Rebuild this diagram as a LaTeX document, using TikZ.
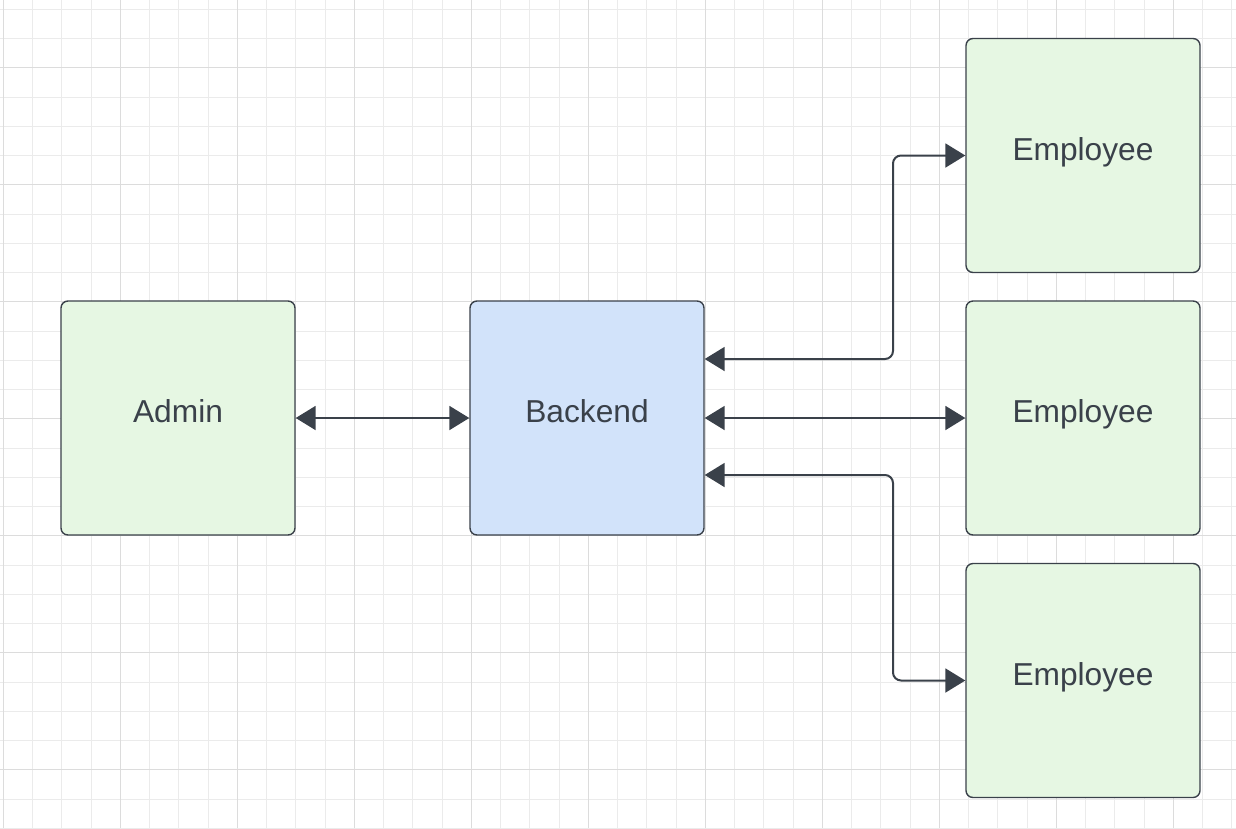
\documentclass[tikz,border=0pt]{standalone}
\usepackage{fontspec}
\setmainfont{Liberation Sans}
\usetikzlibrary{arrows.meta}
\pgfdeclarelayer{bg}
\pgfsetlayers{bg,main}
\definecolor{gridminor}{HTML}{EBEBEB}
\definecolor{gridmajor}{HTML}{DCDCDC}
\definecolor{ink}{HTML}{3A414A}
\definecolor{greenfill}{HTML}{E6F7E3}
\definecolor{bluefill}{HTML}{D2E3FA}
\tikzset{every picture/.append style={x=1pt, y=-1pt}}
\tikzset{
    box/.style={draw=ink, line width=1.4pt, rounded corners=7pt,
    	minimum size=234pt, inner sep=0pt, text=ink,
    	font=\fontsize{31.7}{38}\selectfont, text height=0.95em, text depth=0.05em},
    user/.style={box, fill=greenfill},
    server/.style={box, fill=bluefill},
    link/.style={draw=ink, line width=2pt, rounded corners=8pt,
    	{Triangle[length=20pt,width=24pt]}-{Triangle[length=20pt,width=24pt]}}
}

\begin{document}
\begin{tikzpicture}
  \useasboundingbox (0,0) rectangle (1236,828);
  \node (admin) [user] at (178, 418) {Admin};
  \node (back) [server] at (587, 418) {Backend};
  \node (emp1) [user] at (1083, 155.5) {Employee};
  \node (emp2) [user] at (1083, 418) {Employee};
  \node (emp3) [user] at (1083, 680.5) {Employee};
  \coordinate (bend) at (893, 418);

  \draw[link] (admin.east) -- (back.west);
  \draw[link] (back.east) -- (emp2.west);
  \draw[link] ([yshift=59pt]back.east) -| (bend |- emp1.west) -- (emp1.west);
  \draw[link] ([yshift=-57pt]back.east) -| (bend |- emp3.west) -- (emp3.west);

  \begin{pgfonlayer}{bg}
	  \clip (0,0) rectangle (1236,828);
	  \foreach \i in {0,...,42} \draw[gridminor, line width=0.8pt] (3.3+29.25*\i, 0) -- ++(0,828);
	  \foreach \j in {0,...,28} \draw[gridminor, line width=0.8pt] (0, 9.3+29.25*\j) -- ++(1236,0);
	  \foreach \i in {0,...,10} \draw[gridmajor, line width=0.8pt] (3.3+117*\i, 0) -- ++(0,828);
	  \foreach \j in {0,...,6} \draw[gridmajor, line width=0.8pt] (0, 67.3+117*\j) -- ++(1236,0);
  \end{pgfonlayer}

\end{tikzpicture}
\end{document}
